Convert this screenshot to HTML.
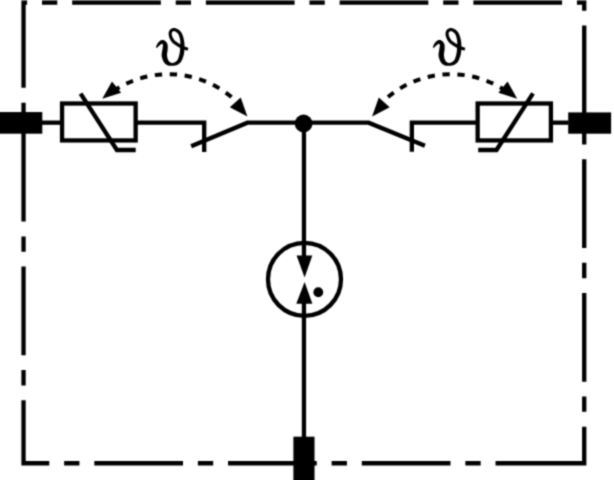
<!DOCTYPE html>
<html><head><meta charset="utf-8"><style>
html,body{margin:0;padding:0;background:#fff;}
body{width:614px;height:480px;overflow:hidden;font-family:"Liberation Serif",serif;}
svg{display:block;position:absolute;left:0;top:0;}
</style></head><body>
<svg width="614" height="480" viewBox="0 0 614 480">
<defs><filter id="soft" color-interpolation-filters="sRGB" filterUnits="userSpaceOnUse" x="0" y="0" width="614" height="480"><feConvolveMatrix order="3" kernelMatrix="0.04000 0.12000 0.04000 0.12000 0.36000 0.12000 0.04000 0.12000 0.04000" divisor="1" edgeMode="duplicate"/></filter></defs>
<g filter="url(#soft)">
<rect x="0" y="0" width="614" height="480" fill="#fff"/>
<path d="M584.23 463.26 H23.54 V2.64 H584.23 Z" fill="none" stroke="#000" stroke-width="4.3" stroke-dasharray="88.7 14.87 15.3 14.87" stroke-linejoin="miter"/>
<rect x="-1" y="112.06" width="43.3" height="21.64" fill="#000"/>
<rect x="568.2" y="112.4" width="42.9" height="21.31" fill="#000"/>
<rect x="293.39" y="436.69" width="21.14" height="45" fill="#000"/>
<g fill="none" stroke="#000" stroke-width="4.3" stroke-linejoin="miter" stroke-miterlimit="10">
<path d="M42 122.65 H62.06"/>
<rect x="62.06" y="103.50" width="73.59" height="36.93"/>
<path d="M135.65 122.65 H204.2 V152"/>
<path d="M191.2 146.3 L247.4 122.65 H368.6 L424.9 145.7"/>
<path d="M411.85 151.8 V122.65 H477.65"/>
<rect x="477.65" y="103.50" width="73.26" height="36.93"/>
<path d="M550.91 122.65 H568.5"/>
<path d="M80.6 93.6 L116.9 150 H135.7"/>
<path d="M533.0 93.4 L496.5 150 H478.2"/>
<path d="M303.95 124 V256"/>
<path d="M303.95 303 V437.5"/>
<circle cx="304.49" cy="279.3" r="36.5"/>
</g>
<circle cx="303.6" cy="123.5" r="8.9" fill="#000"/>
<polygon points="296.6,255.4 312.3,255.4 304.6,277.4" fill="#000"/>
<polygon points="296.3,303.7 312.4,303.7 304.6,281.9" fill="#000"/>
<circle cx="318.3" cy="292.25" r="4.9" fill="#000"/>
<g>
<g fill="none" stroke="#000" stroke-width="4.0"><path d="M113.31 91.02 A98.70 98.70 0 0 1 119.51 87.18"/>
<path d="M126.30 83.64 A98.70 98.70 0 0 1 133.01 80.77"/>
<path d="M140.25 78.31 A98.70 98.70 0 0 1 147.32 76.48"/>
<path d="M154.85 75.14 A98.70 98.70 0 0 1 162.11 74.40"/>
<path d="M169.76 74.21 A98.70 98.70 0 0 1 177.05 74.58"/>
<path d="M184.64 75.54 A98.70 98.70 0 0 1 191.79 77.00"/>
<path d="M199.14 79.10 A98.70 98.70 0 0 1 205.99 81.63"/>
<path d="M212.95 84.81 A98.70 98.70 0 0 1 219.34 88.34"/>
<path d="M225.73 92.54 A98.70 98.70 0 0 1 231.51 96.99"/></g>
<polygon points="102.3,98.8 111.95,81.44 121.1,92.7" fill="#000"/>
<polygon points="247.4,116.6 240.7,97.5 229.8,107.3" fill="#000"/>
</g>
<g transform="matrix(-1 0 0 1 619.5 0)"><g fill="none" stroke="#000" stroke-width="4.0"><path d="M113.31 91.02 A98.70 98.70 0 0 1 119.51 87.18"/>
<path d="M126.30 83.64 A98.70 98.70 0 0 1 133.01 80.77"/>
<path d="M140.25 78.31 A98.70 98.70 0 0 1 147.32 76.48"/>
<path d="M154.85 75.14 A98.70 98.70 0 0 1 162.11 74.40"/>
<path d="M169.76 74.21 A98.70 98.70 0 0 1 177.05 74.58"/>
<path d="M184.64 75.54 A98.70 98.70 0 0 1 191.79 77.00"/>
<path d="M199.14 79.10 A98.70 98.70 0 0 1 205.99 81.63"/>
<path d="M212.95 84.81 A98.70 98.70 0 0 1 219.34 88.34"/>
<path d="M225.73 92.54 A98.70 98.70 0 0 1 231.51 96.99"/></g>
<polygon points="102.3,98.8 111.95,81.44 121.1,92.7" fill="#000"/>
<polygon points="247.4,116.6 240.7,97.5 229.8,107.3" fill="#000"/></g>
<g fill="#000" stroke="none">
<path d="M156.93 47.97 L157.30 47.61 L157.67 47.22 L158.03 46.83 L158.39 46.45 L158.74 46.07 L159.09 45.72 L159.43 45.40 L159.76 45.13 L160.07 44.90 L160.37 44.72 L160.66 44.49 L160.97 44.27 L161.28 44.06 L161.58 43.88 L161.85 43.74 L162.09 43.64 L162.28 43.58 L162.40 43.58 L162.41 43.60 L162.32 43.63 L162.22 43.65 L162.22 43.70 L162.29 43.80 L162.39 43.95 L162.51 44.14 L162.63 44.36 L162.74 44.60 L162.84 44.84 L162.90 45.06 L162.92 45.24 L162.93 45.39 L162.93 45.55 L162.92 45.76 L162.89 46.03 L162.85 46.36 L162.80 46.75 L162.73 47.19 L162.65 47.69 L162.58 48.24 L162.51 48.79 L162.45 49.29 L162.36 49.85 L162.25 50.49 L162.11 51.20 L161.97 51.96 L161.84 52.77 L161.73 53.62 L161.66 54.51 L161.65 55.43 L161.72 56.34 L161.91 57.18 L162.12 57.99 L162.38 58.80 L162.68 59.61 L163.01 60.41 L163.39 61.19 L163.80 61.94 L164.27 62.65 L164.79 63.33 L165.37 63.95 L166.03 64.45 L166.73 64.86 L167.44 65.19 L168.17 65.45 L168.90 65.65 L169.63 65.78 L170.35 65.85 L171.07 65.87 L171.77 65.84 L172.45 65.75 L173.15 65.75 L173.87 65.69 L174.61 65.58 L175.35 65.42 L176.10 65.21 L176.85 64.95 L177.58 64.64 L178.29 64.28 L178.97 63.86 L179.62 63.37 L180.19 62.79 L180.71 62.15 L181.16 61.49 L181.55 60.80 L181.91 60.10 L182.22 59.39 L182.51 58.68 L182.78 57.98 L183.02 57.30 L183.26 56.62 L183.47 55.91 L183.66 55.19 L183.82 54.46 L183.97 53.72 L184.09 52.98 L184.20 52.23 L184.30 51.47 L184.37 50.70 L184.44 49.92 L184.50 49.13 L184.51 48.31 L184.52 47.46 L184.52 46.58 L184.50 45.68 L184.47 44.76 L184.43 43.84 L184.36 42.91 L184.26 41.99 L184.13 41.08 L183.98 40.19 L183.80 39.34 L183.60 38.48 L183.38 37.61 L183.14 36.75 L182.87 35.89 L182.57 35.06 L182.23 34.24 L181.86 33.47 L181.46 32.73 L181.00 32.03 L180.49 31.38 L179.92 30.79 L179.32 30.25 L178.69 29.77 L178.06 29.35 L177.41 28.98 L176.78 28.67 L176.16 28.40 L175.55 28.20 L174.94 28.04 L174.30 27.94 L173.66 27.94 L173.04 28.02 L172.45 28.17 L171.90 28.38 L171.40 28.64 L170.93 28.94 L170.50 29.28 L170.11 29.65 L169.77 30.06 L169.46 30.51 L169.21 31.00 L169.01 31.51 L168.85 32.04 L168.74 32.59 L168.67 33.15 L168.63 33.72 L168.64 34.30 L168.69 34.89 L168.78 35.48 L168.90 36.08 L169.07 36.70 L169.27 37.33 L169.51 37.97 L169.77 38.62 L170.07 39.26 L170.40 39.90 L170.75 40.52 L171.13 41.11 L171.54 41.68 L171.98 42.22 L172.46 42.73 L172.96 43.21 L173.48 43.65 L174.01 44.07 L174.54 44.46 L175.06 44.83 L175.58 45.19 L176.09 45.54 L176.59 45.87 L177.10 46.21 L177.63 46.53 L178.16 46.85 L178.69 47.15 L179.23 47.44 L179.77 47.72 L180.31 47.99 L180.85 48.25 L181.39 48.51 L181.94 48.76 L182.51 49.00 L183.08 49.22 L183.64 49.43 L184.21 49.62 L184.77 49.81 L185.32 49.99 L185.87 50.17 L186.42 50.35 L186.95 50.53 L187.49 50.71 L188.51 47.89 L187.97 47.68 L187.41 47.48 L186.87 47.28 L186.33 47.08 L185.79 46.89 L185.27 46.69 L184.75 46.49 L184.25 46.28 L183.75 46.07 L183.26 45.84 L182.76 45.61 L182.26 45.36 L181.76 45.11 L181.27 44.85 L180.78 44.58 L180.30 44.31 L179.82 44.03 L179.35 43.74 L178.88 43.44 L178.41 43.13 L177.92 42.80 L177.41 42.47 L176.92 42.14 L176.43 41.81 L175.97 41.47 L175.52 41.13 L175.11 40.79 L174.72 40.44 L174.37 40.08 L174.06 39.72 L173.76 39.31 L173.46 38.86 L173.18 38.37 L172.90 37.86 L172.65 37.33 L172.42 36.80 L172.22 36.29 L172.05 35.79 L171.92 35.33 L171.82 34.92 L171.77 34.54 L171.74 34.16 L171.73 33.79 L171.75 33.44 L171.80 33.10 L171.86 32.79 L171.94 32.52 L172.04 32.28 L172.13 32.09 L172.23 31.94 L172.36 31.80 L172.53 31.65 L172.72 31.51 L172.93 31.38 L173.16 31.27 L173.39 31.19 L173.61 31.14 L173.83 31.12 L174.04 31.12 L174.26 31.16 L174.56 31.26 L174.95 31.41 L175.37 31.61 L175.82 31.85 L176.28 32.14 L176.73 32.45 L177.16 32.80 L177.56 33.18 L177.90 33.56 L178.20 33.97 L178.47 34.43 L178.73 34.98 L178.98 35.59 L179.22 36.26 L179.43 36.97 L179.63 37.72 L179.81 38.49 L179.97 39.26 L180.11 40.05 L180.22 40.81 L180.30 41.56 L180.36 42.33 L180.38 43.14 L180.39 43.96 L180.38 44.80 L180.34 45.64 L180.30 46.47 L180.24 47.30 L180.18 48.10 L180.10 48.87 L180.06 49.61 L180.01 50.32 L179.95 51.01 L179.88 51.68 L179.79 52.33 L179.69 52.97 L179.58 53.59 L179.45 54.19 L179.31 54.78 L179.14 55.38 L178.97 56.02 L178.79 56.66 L178.60 57.29 L178.40 57.90 L178.19 58.48 L177.97 59.01 L177.74 59.50 L177.50 59.94 L177.25 60.31 L176.98 60.63 L176.69 60.95 L176.32 61.28 L175.89 61.61 L175.42 61.91 L174.91 62.19 L174.38 62.44 L173.85 62.65 L173.32 62.83 L172.82 62.96 L172.35 63.05 L171.89 62.96 L171.42 62.83 L170.96 62.67 L170.51 62.48 L170.09 62.25 L169.70 62.00 L169.36 61.73 L169.06 61.44 L168.82 61.15 L168.63 60.85 L168.44 60.55 L168.23 60.17 L168.02 59.71 L167.81 59.19 L167.63 58.62 L167.46 58.02 L167.32 57.40 L167.20 56.79 L167.12 56.19 L167.08 55.66 L167.03 55.20 L167.02 54.69 L167.05 54.11 L167.11 53.47 L167.20 52.80 L167.31 52.10 L167.43 51.38 L167.54 50.65 L167.64 49.91 L167.69 49.21 L167.70 48.64 L167.72 48.13 L167.73 47.63 L167.74 47.12 L167.75 46.60 L167.73 46.07 L167.69 45.51 L167.61 44.94 L167.48 44.34 L167.28 43.76 L167.01 43.21 L166.71 42.71 L166.37 42.24 L166.00 41.79 L165.60 41.37 L165.17 40.99 L164.69 40.64 L164.16 40.34 L163.56 40.11 L162.88 39.97 L162.19 39.97 L161.57 40.09 L161.03 40.30 L160.54 40.54 L160.10 40.83 L159.68 41.13 L159.29 41.45 L158.92 41.79 L158.57 42.13 L158.23 42.48 L157.92 42.92 L157.63 43.39 L157.37 43.87 L157.14 44.36 L156.91 44.85 L156.70 45.34 L156.49 45.83 L156.28 46.31 L156.08 46.77 L155.87 47.23 Z"/>
<path transform="translate(276.9 0)" d="M156.93 47.97 L157.30 47.61 L157.67 47.22 L158.03 46.83 L158.39 46.45 L158.74 46.07 L159.09 45.72 L159.43 45.40 L159.76 45.13 L160.07 44.90 L160.37 44.72 L160.66 44.49 L160.97 44.27 L161.28 44.06 L161.58 43.88 L161.85 43.74 L162.09 43.64 L162.28 43.58 L162.40 43.58 L162.41 43.60 L162.32 43.63 L162.22 43.65 L162.22 43.70 L162.29 43.80 L162.39 43.95 L162.51 44.14 L162.63 44.36 L162.74 44.60 L162.84 44.84 L162.90 45.06 L162.92 45.24 L162.93 45.39 L162.93 45.55 L162.92 45.76 L162.89 46.03 L162.85 46.36 L162.80 46.75 L162.73 47.19 L162.65 47.69 L162.58 48.24 L162.51 48.79 L162.45 49.29 L162.36 49.85 L162.25 50.49 L162.11 51.20 L161.97 51.96 L161.84 52.77 L161.73 53.62 L161.66 54.51 L161.65 55.43 L161.72 56.34 L161.91 57.18 L162.12 57.99 L162.38 58.80 L162.68 59.61 L163.01 60.41 L163.39 61.19 L163.80 61.94 L164.27 62.65 L164.79 63.33 L165.37 63.95 L166.03 64.45 L166.73 64.86 L167.44 65.19 L168.17 65.45 L168.90 65.65 L169.63 65.78 L170.35 65.85 L171.07 65.87 L171.77 65.84 L172.45 65.75 L173.15 65.75 L173.87 65.69 L174.61 65.58 L175.35 65.42 L176.10 65.21 L176.85 64.95 L177.58 64.64 L178.29 64.28 L178.97 63.86 L179.62 63.37 L180.19 62.79 L180.71 62.15 L181.16 61.49 L181.55 60.80 L181.91 60.10 L182.22 59.39 L182.51 58.68 L182.78 57.98 L183.02 57.30 L183.26 56.62 L183.47 55.91 L183.66 55.19 L183.82 54.46 L183.97 53.72 L184.09 52.98 L184.20 52.23 L184.30 51.47 L184.37 50.70 L184.44 49.92 L184.50 49.13 L184.51 48.31 L184.52 47.46 L184.52 46.58 L184.50 45.68 L184.47 44.76 L184.43 43.84 L184.36 42.91 L184.26 41.99 L184.13 41.08 L183.98 40.19 L183.80 39.34 L183.60 38.48 L183.38 37.61 L183.14 36.75 L182.87 35.89 L182.57 35.06 L182.23 34.24 L181.86 33.47 L181.46 32.73 L181.00 32.03 L180.49 31.38 L179.92 30.79 L179.32 30.25 L178.69 29.77 L178.06 29.35 L177.41 28.98 L176.78 28.67 L176.16 28.40 L175.55 28.20 L174.94 28.04 L174.30 27.94 L173.66 27.94 L173.04 28.02 L172.45 28.17 L171.90 28.38 L171.40 28.64 L170.93 28.94 L170.50 29.28 L170.11 29.65 L169.77 30.06 L169.46 30.51 L169.21 31.00 L169.01 31.51 L168.85 32.04 L168.74 32.59 L168.67 33.15 L168.63 33.72 L168.64 34.30 L168.69 34.89 L168.78 35.48 L168.90 36.08 L169.07 36.70 L169.27 37.33 L169.51 37.97 L169.77 38.62 L170.07 39.26 L170.40 39.90 L170.75 40.52 L171.13 41.11 L171.54 41.68 L171.98 42.22 L172.46 42.73 L172.96 43.21 L173.48 43.65 L174.01 44.07 L174.54 44.46 L175.06 44.83 L175.58 45.19 L176.09 45.54 L176.59 45.87 L177.10 46.21 L177.63 46.53 L178.16 46.85 L178.69 47.15 L179.23 47.44 L179.77 47.72 L180.31 47.99 L180.85 48.25 L181.39 48.51 L181.94 48.76 L182.51 49.00 L183.08 49.22 L183.64 49.43 L184.21 49.62 L184.77 49.81 L185.32 49.99 L185.87 50.17 L186.42 50.35 L186.95 50.53 L187.49 50.71 L188.51 47.89 L187.97 47.68 L187.41 47.48 L186.87 47.28 L186.33 47.08 L185.79 46.89 L185.27 46.69 L184.75 46.49 L184.25 46.28 L183.75 46.07 L183.26 45.84 L182.76 45.61 L182.26 45.36 L181.76 45.11 L181.27 44.85 L180.78 44.58 L180.30 44.31 L179.82 44.03 L179.35 43.74 L178.88 43.44 L178.41 43.13 L177.92 42.80 L177.41 42.47 L176.92 42.14 L176.43 41.81 L175.97 41.47 L175.52 41.13 L175.11 40.79 L174.72 40.44 L174.37 40.08 L174.06 39.72 L173.76 39.31 L173.46 38.86 L173.18 38.37 L172.90 37.86 L172.65 37.33 L172.42 36.80 L172.22 36.29 L172.05 35.79 L171.92 35.33 L171.82 34.92 L171.77 34.54 L171.74 34.16 L171.73 33.79 L171.75 33.44 L171.80 33.10 L171.86 32.79 L171.94 32.52 L172.04 32.28 L172.13 32.09 L172.23 31.94 L172.36 31.80 L172.53 31.65 L172.72 31.51 L172.93 31.38 L173.16 31.27 L173.39 31.19 L173.61 31.14 L173.83 31.12 L174.04 31.12 L174.26 31.16 L174.56 31.26 L174.95 31.41 L175.37 31.61 L175.82 31.85 L176.28 32.14 L176.73 32.45 L177.16 32.80 L177.56 33.18 L177.90 33.56 L178.20 33.97 L178.47 34.43 L178.73 34.98 L178.98 35.59 L179.22 36.26 L179.43 36.97 L179.63 37.72 L179.81 38.49 L179.97 39.26 L180.11 40.05 L180.22 40.81 L180.30 41.56 L180.36 42.33 L180.38 43.14 L180.39 43.96 L180.38 44.80 L180.34 45.64 L180.30 46.47 L180.24 47.30 L180.18 48.10 L180.10 48.87 L180.06 49.61 L180.01 50.32 L179.95 51.01 L179.88 51.68 L179.79 52.33 L179.69 52.97 L179.58 53.59 L179.45 54.19 L179.31 54.78 L179.14 55.38 L178.97 56.02 L178.79 56.66 L178.60 57.29 L178.40 57.90 L178.19 58.48 L177.97 59.01 L177.74 59.50 L177.50 59.94 L177.25 60.31 L176.98 60.63 L176.69 60.95 L176.32 61.28 L175.89 61.61 L175.42 61.91 L174.91 62.19 L174.38 62.44 L173.85 62.65 L173.32 62.83 L172.82 62.96 L172.35 63.05 L171.89 62.96 L171.42 62.83 L170.96 62.67 L170.51 62.48 L170.09 62.25 L169.70 62.00 L169.36 61.73 L169.06 61.44 L168.82 61.15 L168.63 60.85 L168.44 60.55 L168.23 60.17 L168.02 59.71 L167.81 59.19 L167.63 58.62 L167.46 58.02 L167.32 57.40 L167.20 56.79 L167.12 56.19 L167.08 55.66 L167.03 55.20 L167.02 54.69 L167.05 54.11 L167.11 53.47 L167.20 52.80 L167.31 52.10 L167.43 51.38 L167.54 50.65 L167.64 49.91 L167.69 49.21 L167.70 48.64 L167.72 48.13 L167.73 47.63 L167.74 47.12 L167.75 46.60 L167.73 46.07 L167.69 45.51 L167.61 44.94 L167.48 44.34 L167.28 43.76 L167.01 43.21 L166.71 42.71 L166.37 42.24 L166.00 41.79 L165.60 41.37 L165.17 40.99 L164.69 40.64 L164.16 40.34 L163.56 40.11 L162.88 39.97 L162.19 39.97 L161.57 40.09 L161.03 40.30 L160.54 40.54 L160.10 40.83 L159.68 41.13 L159.29 41.45 L158.92 41.79 L158.57 42.13 L158.23 42.48 L157.92 42.92 L157.63 43.39 L157.37 43.87 L157.14 44.36 L156.91 44.85 L156.70 45.34 L156.49 45.83 L156.28 46.31 L156.08 46.77 L155.87 47.23 Z"/>
</g>
</g>
</svg>
</body></html>
